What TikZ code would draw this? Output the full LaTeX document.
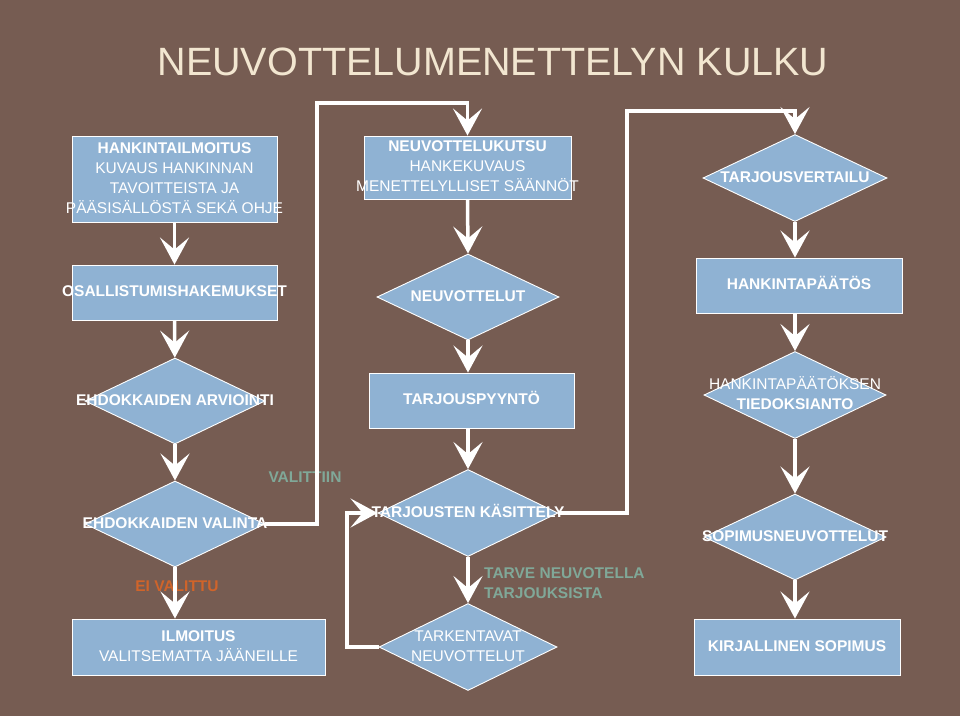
\documentclass[tikz,border=0pt]{standalone}
\usepackage{fontspec}
\setmainfont{Liberation Sans}
\usetikzlibrary{shapes.geometric,arrows.meta}
\definecolor{bg}{HTML}{765C52}
\definecolor{boxfill}{HTML}{8FB2D3}
\definecolor{titlec}{HTML}{F2E6D0}
\definecolor{greenl}{HTML}{80A898}
\definecolor{orangel}{HTML}{D0642A}
\newcommand{\ntext}[1]{\makebox[0pt]{\fontsize{15.5}{20}\selectfont\begin{tabular}{@{}c@{}}#1\end{tabular}}}
\begin{document}
\begin{tikzpicture}[x=1pt,y=-1pt,
  rbox/.style={draw=white, line width=0.9pt, fill=boxfill, inner sep=0pt, text=white, rectangle},
  dbox/.style={rbox, diamond},
  lbl/.style={font=\bfseries\fontsize{15.5}{20}\selectfont, inner sep=0pt},
  flow/.style={draw=white, line width=3.5pt, -{Stealth[length=27pt 0, width=29pt 0, inset=12pt 0]}}]
\fill[bg] (0,0) rectangle (960,716);
\useasboundingbox (0,0) rectangle (960,716);

\node[text=titlec, font=\fontsize{39.5}{44}\selectfont, anchor=base, inner sep=0pt] (title) at (493,75) {NEUVOTTELUMENETTELYN KULKU};

% column 1
\node[rbox, minimum width=205pt, minimum height=86pt] (b1) at (174.5,179) {\ntext{\textbf{HANKINTAILMOITUS}\\KUVAUS HANKINNAN\\TAVOITTEISTA JA\\PÄÄSISÄLLÖSTÄ SEKÄ OHJE}};
\node[rbox, minimum width=205pt, minimum height=55pt] (b2) at (174.5,292.5) {\ntext{\textbf{OSALLISTUMISHAKEMUKSET}}};
\node[dbox, minimum width=180pt, minimum height=86pt] (d1) at (175,401) {\ntext{\textbf{EHDOKKAIDEN ARVIOINTI}}};
\node[dbox, minimum width=180pt, minimum height=86pt] (d2) at (175,524) {\ntext{\textbf{EHDOKKAIDEN VALINTA}}};
\node[rbox, minimum width=253pt, minimum height=56pt] (b3) at (198.5,647) {\ntext{\textbf{ILMOITUS}\\VALITSEMATTA JÄÄNEILLE}};

% column 2
\node[rbox, minimum width=207pt, minimum height=63pt] (b4) at (467.5,167.5) {\ntext{\textbf{NEUVOTTELUKUTSU}\\HANKEKUVAUS\\MENETTELYLLISET SÄÄNNÖT}};
\node[dbox, minimum width=182pt, minimum height=86pt] (d3) at (468,297) {\ntext{\textbf{NEUVOTTELUT}}};
\node[rbox, minimum width=205pt, minimum height=55pt] (b5) at (471.5,400.5) {\ntext{\textbf{TARJOUSPYYNTÖ}}};
\node[dbox, minimum width=180pt, minimum height=87pt] (d4) at (468,513) {\ntext{\textbf{TARJOUSTEN KÄSITTELY}}};
\node[dbox, minimum width=178pt, minimum height=87pt] (d5) at (468,647) {\ntext{TARKENTAVAT\\NEUVOTTELUT}};

% column 3
\node[dbox, minimum width=184pt, minimum height=87pt] (d6) at (795,178) {\ntext{\textbf{TARJOUSVERTAILU}}};
\node[rbox, minimum width=206pt, minimum height=55pt] (b6) at (799,285.5) {\ntext{\textbf{HANKINTAPÄÄTÖS}}};
\node[dbox, minimum width=182pt, minimum height=87pt] (d7) at (795,395) {\ntext{HANKINTAPÄÄTÖKSEN\\\textbf{TIEDOKSIANTO}}};
\node[dbox, minimum width=182pt, minimum height=86pt] (d8) at (795,537) {\ntext{\textbf{SOPIMUSNEUVOTTELUT}}};
\node[rbox, minimum width=206pt, minimum height=56pt] (b7) at (797,647) {\ntext{\textbf{KIRJALLINEN SOPIMUS}}};

% labels
\node[lbl, text=greenl] (lv) at (305,477) {VALITTIIN};
\node[lbl, text=greenl, align=left, anchor=west] (lt) at (484,583) {TARVE NEUVOTELLA\\TARJOUKSISTA};
\node[lbl, text=orangel] (le) at (177,586) {EI VALITTU};

% bend points
\coordinate (k1) at (317,103);
\coordinate (k2) at (627,111);
\coordinate (k3) at (347,580);

% connectors
\draw[flow] (b1) -- (b2);
\draw[flow] (b2) -- (d1);
\draw[flow] (d1) -- (d2);
\draw[flow] (d2.south) -- (d2.south |- b3.north);
\draw[flow] (d2.east) -| (k1) -| (b4.north);
\draw[flow] (b4.south) -- (d3.north);
\draw[flow] (d3.south) -- (d3.south |- b5.north);
\draw[flow] (d3.south |- b5.south) -- (d4.north);
\draw[flow] (d4.east) -| (k2) -| (d6.north);
\draw[flow] (d4.south) -- (d5.north);
\draw[flow] (d5.west) -| (k3) |- (d4.west);
\draw[flow] (d6.south) -- (d6.south |- b6.north);
\draw[flow] (d6.south |- b6.south) -- (d7.north);
\draw[flow] (d7.south) -- (d8.north);
\draw[flow] (d8.south) -- (d8.south |- b7.north);
\end{tikzpicture}
\end{document}
